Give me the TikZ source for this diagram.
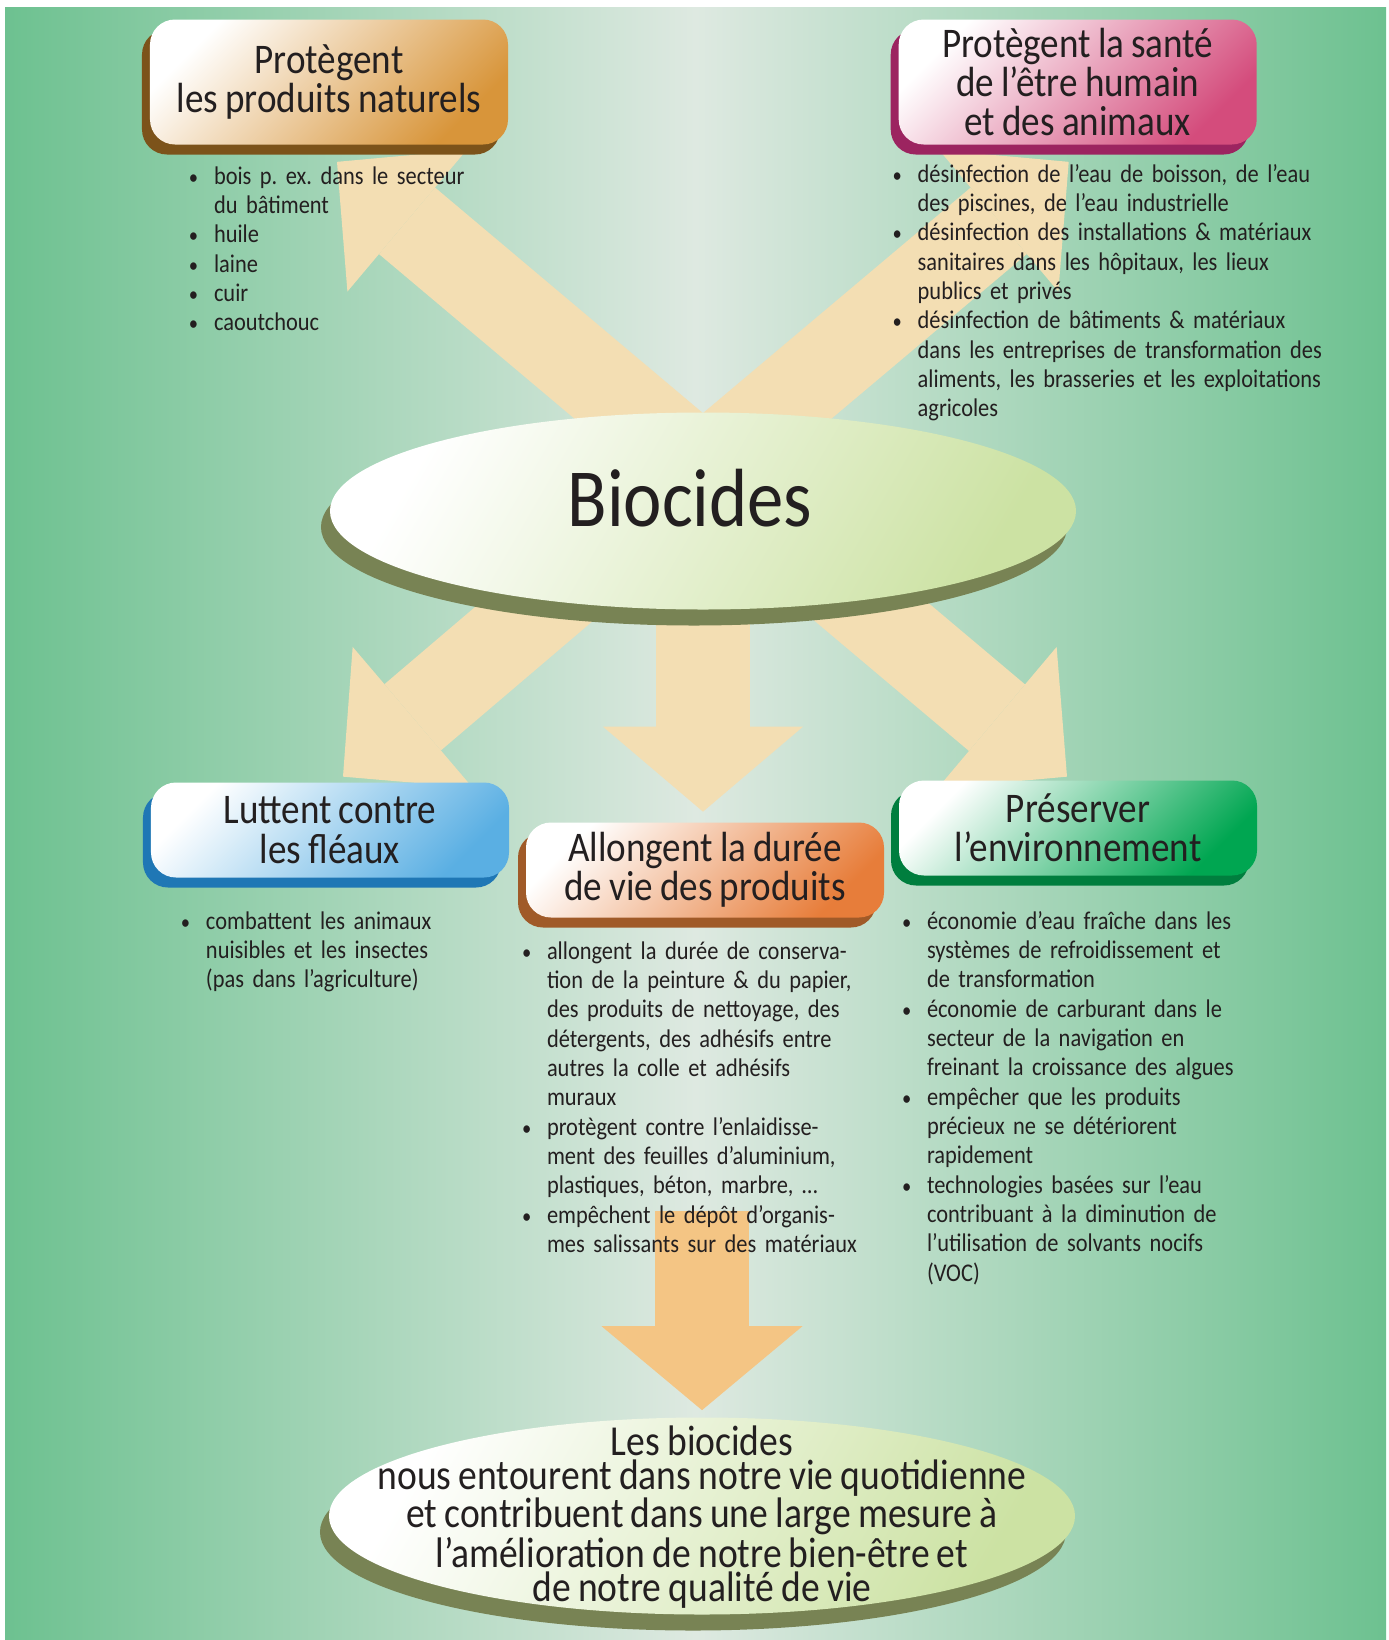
\documentclass[tikz,border=0pt]{standalone}
\usepackage{fontspec}
\setmainfont{Carlito}[FakeStretch=0.88, WordSpace=0.85]
\usepackage{xcolor}
\usepackage{tikz}
\usetikzlibrary{shapes,arrows.meta,positioning,shadows,backgrounds}

\definecolor{bggreen}{HTML}{6DC190}
\definecolor{bglight}{HTML}{DEE9E1}
\definecolor{arrowbeige}{HTML}{F3DEB3}
\definecolor{arrowgold}{HTML}{F4C584}
\definecolor{natfill}{HTML}{D8953A}
\definecolor{natshade}{HTML}{7C531A}
\definecolor{healthfill}{HTML}{D44C7C}
\definecolor{healthshade}{HTML}{9C2460}
\definecolor{pestfill}{HTML}{5AAFE3}
\definecolor{pestshade}{HTML}{1F77B5}
\definecolor{lifefill}{HTML}{E77D3A}
\definecolor{lifeshade}{HTML}{A05A28}
\definecolor{envfill}{HTML}{00A651}
\definecolor{envshade}{HTML}{007E3E}
\definecolor{ellgreen}{HTML}{CCE2A3}
\definecolor{ellshade}{HTML}{788354}
\definecolor{ink}{HTML}{231F20}

\frenchspacing
\newcommand{\listpoint}{\par\noindent\hangindent=5mm\hangafter=1\makebox[5mm][l]{\fontsize{12}{12}\selectfont\textbullet}\strut}

\begin{document}
\begin{tikzpicture}[
    x=0.2mm, y=-0.2mm,
    topic/.style 2 args={rectangle, rounded corners=5mm, minimum width=71.6mm, inner sep=0pt, align=center, text=ink, font=\fontsize{24}{22.4}\selectfont, top color=white, bottom color=#1, shading angle=45, drop shadow={shadow xshift=-1.6mm, shadow yshift=-2mm, fill=#2, opacity=1}},
    hubell/.style={ellipse, minimum width=149.2mm, minimum height=39.4mm, inner sep=0pt, top color=white, bottom color=ellgreen, shading angle=60, drop shadow={shadow xshift=-1.8mm, shadow yshift=-3.2mm, fill=ellshade, opacity=1}},
    bullets/.style={inner sep=0pt, text width=90mm, text=ink, font=\fontsize{14.5}{16.7}\selectfont},
    bigarrow/.style={line width=17.4mm, color=arrowbeige, -{Triangle[width=37mm, length=18.3mm, line width=0pt]}},
    midarrow/.style={line width=18.8mm, color=arrowbeige, -{Triangle[width=40mm, length=17mm, line width=0pt]}},
    goldarrow/.style={line width=18.8mm, color=arrowgold, -{Triangle[width=40.2mm, length=16.8mm, line width=0pt]}}
]
    \useasboundingbox (0,0) rectangle (1388,1640);

    % Upper topics
    \node [topic={natfill}{natshade}, minimum height=25mm] (natbox) at (329,82) {Protègent\\les produits naturels};
    \node [topic={healthfill}{healthshade}, minimum height=25mm, right=78mm of natbox] (healthbox) {Protègent la santé\\de l’être humain\\et des animaux};

    \node [bullets, below right=1.9mm and 7.8mm of natbox.south west] (natlist) {%
        \listpoint bois p. ex. dans le secteur\newline du bâtiment
        \listpoint huile
        \listpoint laine
        \listpoint cuir
        \listpoint caoutchouc\par};
    \node [bullets, below right=1.5mm and -1.2mm of healthbox.south west] (healthlist) {%
        \listpoint désinfection de l’eau de boisson, de l’eau\newline des piscines, de l’eau industrielle
        \listpoint désinfection des installations \& matériaux\newline sanitaires dans les hôpitaux, les lieux\newline publics et privés
        \listpoint désinfection de bâtiments \& matériaux\newline dans les entreprises de transformation des\newline aliments, les brasseries et les exploitations\newline agricoles\par};

    % Centre
    \node [hubell] (bio) at (703,511) {};
    \node [text=ink, font=\fontsize{47}{47}\selectfont] (biolabel) at ([xshift=-2.6mm, yshift=2.6mm]bio.center) {Biocides};

    % Lower topics
    \node [topic={pestfill}{pestshade}, minimum height=19mm] (pestbox) at (330,830) {Luttent contre\\les fléaux};
    \node [topic={lifefill}{lifeshade}, minimum height=19mm] (lifebox) at (705,870) {Allongent la durée\\de vie des produits};
    \node [topic={envfill}{envshade}, minimum height=19mm] (envbox) at (1078,828) {Préserver\\l’environnement};

    \node [bullets, below right=4.3mm and 6mm of pestbox.south west] (pestlist) {%
        \listpoint combattent les animaux\newline nuisibles et les insectes\newline (pas dans l’agriculture)\par};
    \node [bullets, below right=2.3mm and -0.8mm of lifebox.south west] (lifelist) {%
        \listpoint allongent la durée de conserva-\newline tion de la peinture \& du papier,\newline des produits de nettoyage, des\newline détergents, des adhésifs entre\newline autres la colle et adhésifs\newline muraux
        \listpoint protègent contre l’enlaidisse-\newline ment des feuilles d’aluminium,\newline plastiques, béton, marbre, …
        \listpoint empêchent le dépôt d’organis-\newline mes salissants sur des matériaux\par};
    \node [bullets, below right=4.7mm and 0.6mm of envbox.south west] (envlist) {%
        \listpoint économie d’eau fraîche dans les\newline systèmes de refroidissement et\newline de transformation
        \listpoint économie de carburant dans le\newline secteur de la navigation en\newline freinant la croissance des algues
        \listpoint empêcher que les produits\newline précieux ne se détériorent\newline rapidement
        \listpoint technologies basées sur l’eau\newline contribuant à la diminution de\newline l’utilisation de solvants nocifs\newline (VOC)\par};

    % Result
    \node [hubell] (lifeell) at (702,1516) {};
    \node [text=ink, align=center, font=\fontsize{24.3}{19.6}\selectfont] (lifetext) at ([yshift=-0.2mm]lifeell.center) {Les biocides\\nous entourent dans notre vie quotidienne\\et contribuent dans une large mesure à\\l’amélioration de notre bien-être et\\de notre qualité de vie};

    % Background and arrows
    \begin{scope}[on background layer]
        \fill [white] (0,0) rectangle (1388,1640);
        \shade [left color=bggreen, right color=bggreen, middle color=bglight] (5,7) rectangle (1386,1640);

        \coordinate (hub) at ([yshift=8.2mm]bio.center);
        \draw [bigarrow] (hub) -- ([xshift=1.6mm, yshift=-3.4mm]natbox.south);
        \draw [bigarrow] (hub) -- ([xshift=-1.8mm, yshift=-3.4mm]healthbox.south);
        \draw [bigarrow] (hub) -- ([xshift=2.6mm, yshift=1.1mm]pestbox.north);
        \draw [bigarrow] (hub) -- ([xshift=-2.2mm, yshift=0.7mm]envbox.north);
        \draw [midarrow] (hub) -- ([xshift=-0.4mm, yshift=2.1mm]lifebox.north);

        \coordinate (lifetail) at (702,1211);
        \draw [goldarrow] (lifetail) -- ([yshift=1.4mm]lifeell.north);
    \end{scope}
\end{tikzpicture}
\end{document}
